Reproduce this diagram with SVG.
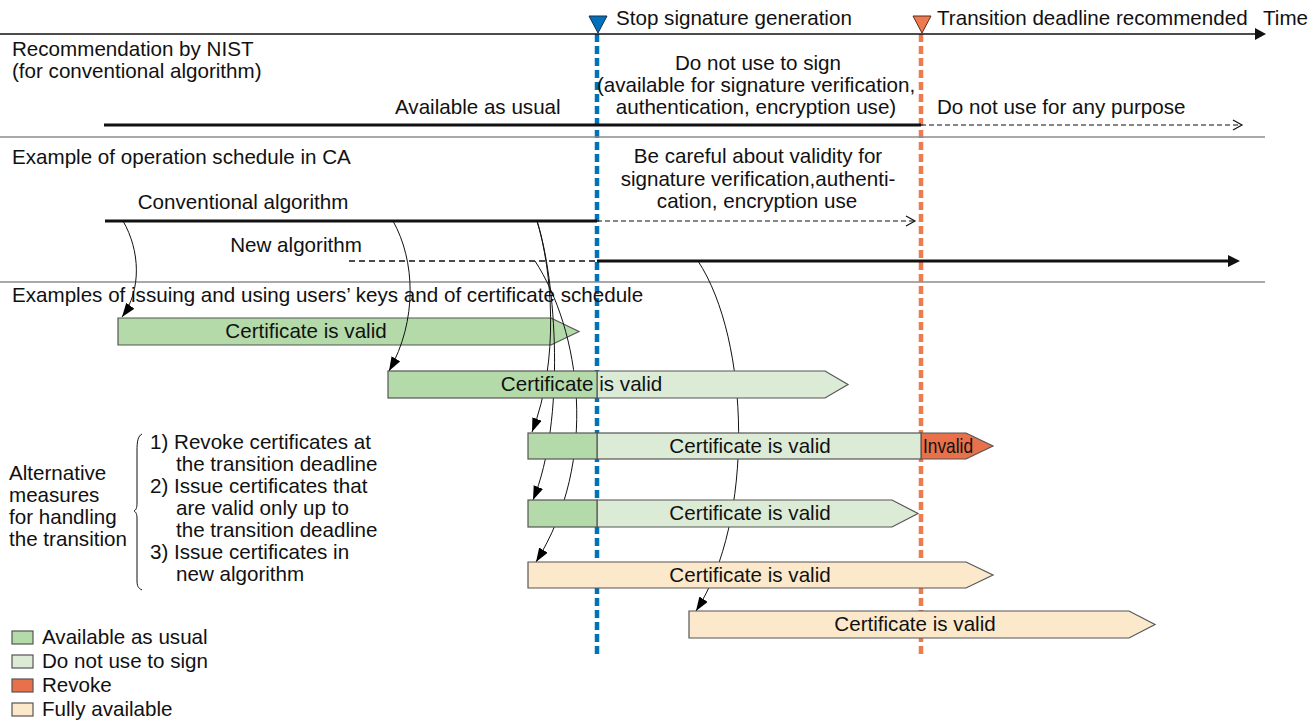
<svg xmlns="http://www.w3.org/2000/svg" width="1316" height="728" viewBox="0 0 1316 728">
<style>
text { font-family: "Liberation Sans", Arial, Helvetica, sans-serif; font-size: 20.6px; fill: #111; }
.mid { text-anchor: middle; }
.sep { stroke: #8c8c8c; stroke-width: 1.6; fill: none; }
.axis { stroke: #111; stroke-width: 1.6; fill: none; }
.thick { stroke: #111; stroke-width: 3; fill: none; }
.dash { stroke: #111; stroke-width: 1.2; stroke-dasharray: 5 3; fill: none; }
.open { stroke: #111; stroke-width: 1.2; fill: none; }
.vblue { stroke: #0072bc; stroke-width: 4.5; stroke-dasharray: 8 4; fill: none; }
.vorange { stroke: #ee7a50; stroke-width: 4.5; stroke-dasharray: 8 4; fill: none; }
.bar { stroke: #555; stroke-width: 1.2; }
.g1 { fill: #b4daaa; }
.g2 { fill: #dcebd6; }
.rv { fill: #e8704a; }
.cr { fill: #fce9cc; }
.conn { stroke: #111; stroke-width: 1; fill: none; marker-end: url(#ah); }
</style>
<defs>
<marker id="ah" markerUnits="userSpaceOnUse" markerWidth="16" markerHeight="12" refX="14" refY="5" orient="auto"><path d="M0,0 L14,5 L0,10 z" fill="#000"/></marker>
</defs>

<!-- vertical milestone lines -->
<g id="milestone-lines">
<line class="vblue" x1="597" y1="34" x2="597" y2="655"/>
<line class="vorange" x1="921" y1="34" x2="921" y2="655"/>
</g>

<!-- time axis -->
<g id="time-axis">
<line class="axis" x1="0" y1="34" x2="1257" y2="34"/>
<polygon points="1255,28 1266,34 1255,40" fill="#111"/>
<text x="1263" y="25">Time</text>
</g>
<g id="milestone-stop">
<polygon points="589,16 607,16 598,33" fill="#0072bc" stroke="#1a2a4a" stroke-width="1"/>
<text x="616" y="25">Stop signature generation</text>
</g>
<g id="milestone-deadline">
<polygon points="913,16 931,16 922,33" fill="#ee7a50" stroke="#5a2a1a" stroke-width="1"/>
<text x="937" y="25">Transition deadline recommended</text>
</g>

<!-- separators -->
<line class="sep" x1="0" y1="137" x2="1265" y2="137"/>
<line class="sep" x1="0" y1="282" x2="1265" y2="282"/>

<!-- NIST recommendation row -->
<g id="nist-row">
<text x="12" y="56">Recommendation by NIST</text>
<text x="12" y="78">(for conventional algorithm)</text>
<text x="395" y="114">Available as usual</text>
<text class="mid" x="758" y="70">Do not use to sign</text>
<text class="mid" x="756" y="92">(available for signature verification,</text>
<text class="mid" x="756" y="114">authentication, encryption use)</text>
<text x="937" y="114">Do not use for any purpose</text>
<line class="thick" x1="104" y1="125" x2="921" y2="125"/>
<line class="dash" x1="921" y1="125" x2="1241" y2="125"/>
<polyline class="open" points="1233,120 1242,125 1233,130"/>
</g>

<!-- CA operation row -->
<g id="ca-row">
<text x="12" y="164">Example of operation schedule in CA</text>
<text class="mid" x="243" y="209">Conventional algorithm</text>
<text class="mid" x="296" y="252">New algorithm</text>
<text class="mid" x="758" y="163">Be careful about validity for</text>
<text class="mid" x="758" y="186">signature verification,authenti-</text>
<text class="mid" x="757" y="208">cation, encryption use</text>
<line class="thick" x1="105" y1="221" x2="597" y2="221"/>
<line class="dash" x1="597" y1="221" x2="914" y2="221"/>
<polyline class="open" points="906,216 915,221 906,226"/>
<line class="dash" x1="349" y1="261" x2="597" y2="261" style="stroke-width:1.4;stroke-dasharray:6 4"/>
<line class="thick" x1="597" y1="261" x2="1230" y2="261"/>
<polygon points="1228,255 1240,261 1228,267" fill="#111"/>
</g>

<text x="12" y="302">Examples of issuing and using users’ keys and of certificate schedule</text>

<!-- certificate 1 -->
<g id="cert-1">
<polygon class="bar g1" points="118,318 551,318 579,331.5 551,345 118,345"/>
<text class="mid" x="306" y="338">Certificate is valid</text>
</g>

<!-- connectors -->
<g id="connectors">
<path class="conn" d="M123,221 C140,250 142,290 122,317"/>
<path class="conn" d="M393,221 C415,260 418,320 389,371"/>
<path class="conn" d="M537,221 C552,270 560,360 532,432"/>
<path class="conn" d="M537,221 C556,280 566,420 533,500"/>
<path class="conn" d="M535,261 C580,330 600,460 536,562"/>
<path class="conn" d="M698,261 C750,340 755,520 696,611"/>
</g>

<!-- certificate 2 -->
<g id="cert-2">
<polygon class="bar g2" points="597,371 825,371 848,384.5 825,398 597,398"/>
<rect class="bar g1" x="388" y="371" width="209" height="27"/>
<text class="mid" x="581.5" y="391">Certificate is valid</text>
</g>

<!-- alternative 1 -->
<g id="cert-alt-1">
<polygon class="bar rv" points="921,433 966,433 993,446 966,459 921,459"/>
<rect class="bar g2" x="597" y="433" width="324" height="26"/>
<rect class="bar g1" x="528" y="433" width="69" height="26"/>
<text class="mid" x="750" y="453">Certificate is valid</text>
<text x="923" y="453" textLength="50" lengthAdjust="spacingAndGlyphs">Invalid</text>
</g>

<!-- alternative 2 -->
<g id="cert-alt-2">
<polygon class="bar g2" points="597,500 892,500 918,513.5 892,527 597,527"/>
<rect class="bar g1" x="528" y="500" width="69" height="27"/>
<text class="mid" x="750" y="520">Certificate is valid</text>
</g>

<!-- alternative 3 -->
<g id="cert-alt-3">
<polygon class="bar cr" points="528,562 966,562 993,575 966,588 528,588"/>
<text class="mid" x="750" y="582">Certificate is valid</text>
</g>

<!-- new algorithm certificate -->
<g id="cert-new">
<polygon class="bar cr" points="689,611 1129,611 1155,624.5 1129,638 689,638"/>
<text class="mid" x="915" y="631">Certificate is valid</text>
</g>

<!-- alternatives annotation -->
<g id="alternatives">
<text x="9" y="480">Alternative</text>
<text x="9" y="502">measures</text>
<text x="9" y="524">for handling</text>
<text x="9" y="546">the transition</text>
<path d="M142,434 C138,436 137,441 137,451 L137,503 C137,508 136,510 134,511 C136,512 137,514 137,519 L137,580 C137,586 138,588 142,590" fill="none" stroke="#111" stroke-width="1"/>
<text x="150" y="449">1) Revoke certificates at</text>
<text x="176" y="471">the transition deadline</text>
<text x="150" y="493">2) Issue certificates that</text>
<text x="176" y="515">are valid only up to</text>
<text x="176" y="537">the transition deadline</text>
<text x="150" y="559">3) Issue certificates in</text>
<text x="176" y="581">new algorithm</text>
</g>

<!-- legend -->
<g id="legend">
<rect class="bar g1" x="12" y="631" width="21" height="13"/>
<text x="42" y="644">Available as usual</text>
<rect class="bar g2" x="12" y="655" width="21" height="13"/>
<text x="42" y="668">Do not use to sign</text>
<rect class="bar rv" x="12" y="679" width="21" height="13"/>
<text x="42" y="692">Revoke</text>
<rect class="bar cr" x="12" y="703" width="21" height="13"/>
<text x="42" y="716">Fully available</text>
</g>
</svg>
